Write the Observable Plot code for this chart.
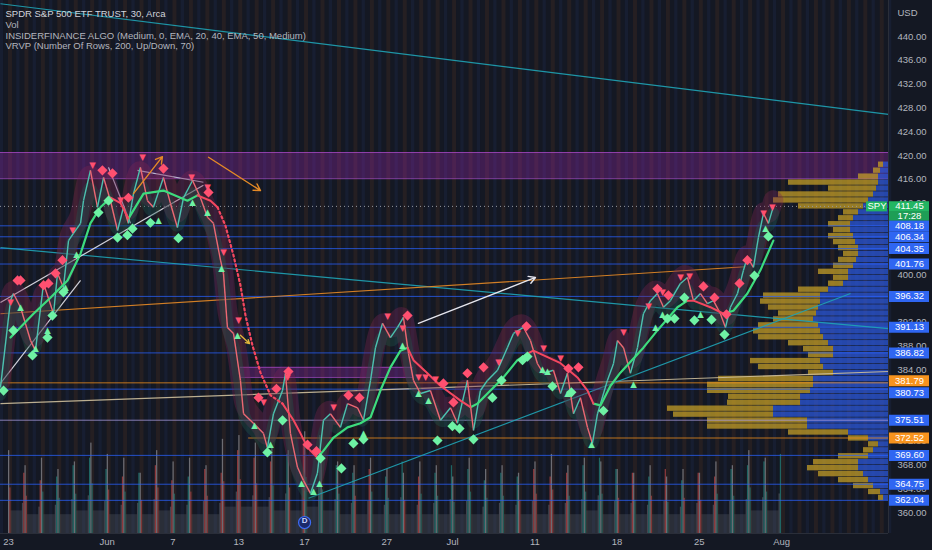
<!DOCTYPE html>
<html><head><meta charset="utf-8">
<script src="https://cdn.jsdelivr.net/npm/d3@7"></script>
<script src="https://cdn.jsdelivr.net/npm/@observablehq/plot@0.6"></script>
<style>
html,body{margin:0;padding:0;background:#131722;}
#wrap{position:relative;width:932px;height:550px;overflow:hidden;background:#141823;}
#wrap svg{position:absolute;left:0;top:0;}
</style></head><body><div id="wrap"></div>
<script>
// ---------- DATA ----------
// time = trading-day index since May 23 open (fractional), price in USD
const tickIdx = [0,6,10,14,18,23,27,32,37,42,47];
const tickLabels = ["23","Jun","7","13","17","27","Jul","11","18","25","Aug"];
// price-scale labels that are not hidden behind the level tags
const yTicks = [360,364,368,372,384,388,392,400,412,416,420,424,428,432,436,440];

const priceT = [-0.49,0.12,0.30,0.73,1.34,1.64,2.13,2.74,2.98,3.34,3.65,3.95,4.38,4.56,4.98,5.41,5.78,6.20,6.63,6.99,7.29,7.60,8.02,8.45,8.81,9.42,9.85,10.27,10.64,11.19,11.67,12.10,12.46,12.89,13.07,13.31,13.68,14.10,14.29,14.89,15.50,15.74,16.11,16.66,16.84,17.14,17.57,17.93,18.36,18.78,19.15,19.57,20.18,20.61,21.22,21.58,22.01,22.31,22.74,23.22,23.65,24.01,24.32,24.62,25.05,25.65,26.26,26.87,27.29,27.90,28.27,28.69,29.12,29.73,30.33,30.70,31.31,31.73,32.16,32.52,33.13,33.56,33.98,34.35,34.77,35.20,35.50,35.81,36.41,36.78,37.02,37.39,37.81,38.24,38.60,39.03,39.45,39.82,40.24,40.85,41.28,41.64,42.07,42.49,42.86,43.28,43.59,43.89,44.32,44.68,44.92,45.29,45.59,45.90,46.20,46.50];
const priceP = [381.0,395.6,396.8,394.5,388.9,387.2,398.5,393.4,400.2,397.8,405.7,406.9,408.6,412.4,417.5,411.3,416.3,412.4,407.4,411.3,408.6,413.6,418.0,412.4,411.3,416.3,411.9,407.9,412.9,415.8,412.9,409.6,408.6,402.4,400.2,391.1,390.1,382.2,376.6,375.0,373.3,370.9,376.6,380.5,383.4,373.3,367.6,365.4,363.2,366.6,375.5,376.6,374.3,378.3,377.6,375.5,382.2,387.7,391.8,389.4,391.1,392.8,386.7,382.2,380.0,380.5,375.5,377.6,375.0,382.2,373.8,380.5,382.2,383.9,387.7,390.1,391.1,388.9,385.0,383.4,383.9,380.0,383.4,376.6,379.3,374.3,371.6,376.6,382.2,385.0,388.9,387.7,383.4,387.7,393.4,395.6,396.8,394.5,395.6,398.5,399.5,395.6,396.8,395.1,395.6,393.4,391.1,394.5,396.8,400.7,402.9,401.2,406.2,410.3,408.6,411.45];

// EMA trend line: segments (u = rising green, d = falling red, o = dotted red)
const emaSeg = ["A","A","A","A","A","A","A","A","B","B","B","C","C","C","C","C","D","D","D","E","E","E","E","E","E","E","E","E","G","G","G","G","G","H","H","H","H","H","H","H","H","H","H","I","I","I","I","I","I","J","J","J","J","J","J","K","K","K","K","K","K","K","L","L","L","L","L","L","L","L","M","M","M","M","N","N","N","N","N"];
const emaKind = {A:"u",B:"d",C:"u",D:"d",E:"o",G:"d",H:"u",I:"d",J:"u",K:"d",L:"u",M:"d",N:"u"};
const emaT = [0.12,1.52,2.55,3.59,4.38,4.98,5.59,6.20, 6.20,6.81,7.29, 7.29,8.21,9.42,10.88,11.49, 11.49,12.28,12.71, 12.71,13.19,13.68,14.10,14.41,14.83,15.32,15.93,16.66, 16.66,17.33,17.75,18.18,18.78, 18.78,19.15,19.76,20.61,21.40,22.01,22.61,23.22,23.83,24.26, 24.26,24.62,25.47,26.26,27.48,28.09, 28.09,28.51,29.12,30.09,30.94,31.55, 31.55,31.91,32.77,33.56,34.59,35.20,35.56, 35.56,35.99,36.60,37.20,38.60,39.45,40.67,41.28, 41.28,41.64,42.67,43.47, 43.47,44.07,44.92,45.71,46.50];
const emaP = [389.4,393.4,396.1,399.0,403.5,408.6,411.3,412.9, 412.9,412.0,409.4, 409.4,413.6,414.1,412.4,413.3, 413.3,412.4,411.3, 411.3,408.2,403.2,398.2,393.1,388.1,383.5,379.7,378.3, 378.3,375.5,373.3,370.9,369.2, 369.2,370.4,372.6,374.3,375.0,376.0,380.5,384.4,387.2,387.7, 387.7,385.6,383.4,381.3,378.8,377.7, 377.7,378.3,380.0,382.7,385.6,386.7, 386.7,387.2,386.1,385.1,382.7,380.5,378.3, 378.3,378.0,381.3,383.5,387.7,390.6,394.5,395.6, 395.6,395.6,394.5,393.4, 393.4,393.9,396.8,400.7,405.7];

const redDiaT = [0.55,0.73,2.13,2.43,2.86,3.28,5.71,6.32,7.29,9.42,12.16,15.20,16.29,17.02,18.18,18.72,20.67,21.34,24.26,26.44,27.05,27.90,28.88,31.49,34.04,34.65,39.45,40.12,42.25,42.92,43.65,44.44,44.92];
const redDiaP = [399.0,399.0,398.2,398.5,400.2,402.4,417.5,417.0,412.9,417.8,413.8,379.3,380.8,383.7,371.4,370.3,379.7,379.3,393.1,381.7,378.5,383.4,384.4,391.3,384.2,384.4,397.6,396.5,398.0,396.1,393.3,398.5,402.4];
const redTriT = [0.12,3.89,5.11,6.81,8.15,11.12,12.10,13.07,13.98,15.50,16.96,19.76,23.04,23.95,24.92,25.35,25.96,29.79,30.94,32.52,33.56,37.39,38.91,39.76,40.85,41.40,45.90,46.44];
const redTriP = [395.3,407.4,418.3,412.4,419.7,416.3,414.6,403.7,392.3,378.5,382.7,377.7,392.9,390.9,382.7,382.7,382.4,385.2,390.1,387.6,385.9,390.3,394.6,397.0,399.5,399.7,410.3,411.3];
const grnDiaT = [-0.30,0.30,1.46,2.37,2.67,3.34,5.47,6.08,6.63,7.23,7.54,8.63,10.33,15.74,16.66,18.97,20.24,20.97,21.58,26.08,26.99,27.42,28.27,29.42,29.97,31.25,31.55,33.07,34.22,36.17,40.06,40.49,41.09,41.70,42.74,43.53,45.35,46.20];
const grnDiaP = [380.5,390.6,386.4,389.4,393.1,397.0,410.4,412.4,406.2,406.6,407.7,408.7,406.1,370.1,375.5,369.1,367.4,371.6,372.3,372.1,374.5,374.1,372.3,379.3,382.2,385.6,386.2,381.2,380.2,377.1,392.6,392.6,396.1,392.3,392.4,389.9,399.8,406.4];
const grnTriT = [0.73,1.64,2.37,3.47,4.13,9.12,11.19,12.10,12.95,13.92,14.95,15.93,17.81,18.54,18.91,21.58,23.95,24.92,25.53,32.46,32.77,33.98,35.44,38.00,39.33,39.76,42.07,46.02];
const grnTriP = [394.5,387.6,390.6,397.8,403.4,409.1,412.1,410.4,401.0,389.8,374.6,371.4,364.9,363.5,364.9,373.3,388.1,380.0,378.8,384.0,383.7,380.0,371.4,381.5,391.1,393.4,393.3,407.7];

// horizontal levels with price-scale tags
const levelVals  = [408.18,406.34,404.35,401.76,396.32,391.13,386.82,381.79,380.73,375.51,372.52,369.60,364.75,362.04];
const levelColor = ["b","b","b","b","b","b","b","o","b","b","o","b","b","b"];
const levelFrom  = [null,null,null,null,null,null,null,null,null,null,14.6,null,null,null];
const lastPrice = 411.45;
const lastTime = "17:28";

// zones (price ranges)
const zoneLo = [416.1, 382.7];
const zoneHi = [420.5, 384.4];
const zoneFrom = [null, 14.1];
const zoneTo = [null, 24.6];

// drawn trendlines
const lineT1 = [-0.49,-0.49,-0.49,-0.49,18.24,-0.49,-0.49,7.84,6.08];
const lineP1 = [445.5,404.5,393.4,378.3,362.4,395.3,381.7,417.5,418.0];
const lineT2 = [53.5,53.5,44.8,53.5,51.19,11.85,4.38,11.85,7.42];
const lineP2 = [426.9,390.9,401.3,383.7,396.8,415.0,399.0,415.5,408.6];
const lineKind = ["teal","teal","orange","beige","teal","white","white","lav","lav"];
// arrows
const arrT1 = [24.92,7.60,12.16,14.10];
const arrP1 = [391.8,413.6,419.7,389.8];
const arrT2 = [32.04,9.36,15.32,14.65];
const arrP2 = [399.5,419.8,414.1,388.4];
const arrKind = ["white","orange","orange","yellow"];

// volume (millions, per day: opening bar, mid-session, closing bar)
const volOpen  = [22,18,20,17,19,24,21,20,16,22,19,20,18,25,26,24,23,22,27,21,19,18,20,17,16,19,18,15,20,17,18,16,19,21,18,20,19,17,16,18,15,17,16,19,18,22,20];
const volMid   = [6,5,5,5,6,6,5,5,5,6,5,5,5,7,7,7,6,6,7,6,5,5,5,5,5,5,5,5,5,5,5,5,5,5,5,6,5,5,5,5,5,5,5,5,5,6,6];
const volClose = [16,14,15,18,20,17,15,16,18,14,15,17,16,22,20,19,21,24,26,18,16,17,15,19,15,16,18,17,14,16,15,17,15,16,18,20,17,16,15,17,14,16,15,17,18,19,21];
const dividendT = [18];

// visible-range volume profile rows (row = [p, p+1])
const vpPrice = [418,417,416,415,414,413,412,411,410,409,408,407,406,405,404,403,402,401,400,399,398,397,396,395,394,393,392,391,390,389,388,387,386,385,384,383,382,381,380,379,378,377,376,375,374,373,372,371,370,369,368,367,366,365,364,363,362];
const vpTotal = [10,15,30,100,60,110,115,90,45,50,60,55,60,55,50,45,50,55,70,55,60,90,125,128,120,110,115,130,135,130,100,85,80,138,130,80,170,181,181,160,161,221,215,181,181,100,40,20,25,50,75,81,70,50,35,20,10];
const vpUp    = [5,8,10,10,12,15,20,25,30,35,38,38,35,33,30,30,32,35,40,40,45,60,68,68,70,72,75,70,68,65,60,55,55,68,65,55,75,75,78,88,88,115,115,81,81,40,20,10,15,20,30,30,25,20,15,8,5];

const legendLines = ["SPDR S&P 500 ETF TRUST, 30, Arca","Vol","INSIDERFINANCE ALGO (Medium, 0, EMA, 20, 40, EMA, 50, Medium)","VRVP (Number Of Rows, 200, Up/Down, 70)"];

// ---------- BUILD ----------
const W = 932, H = 550, MR = 44, MB = 17;
const xDom = [-0.486, 53.5];
const yDom = [356.47, 446.05];
const FONT = "Liberation Sans, Arial, sans-serif";
const C = {axis:"#b2b5be", green:"#26a69a", red:"#ef5350",
  emaG:"#3ddc7e", emaR:"#f4475f", diaR:"#ff5070", diaG:"#6ef2a4", orange:"#f7931e"};
const lineColor = {teal:"#1fa3b5", orange:"#e58a26", beige:"#cdbf9c", white:"#e6e6ee", lav:"#c9c5e0", yellow:"#e0b43a"};
const tagShift = {381.79: -2, 380.73: 3.5};

const base = {width: W, height: H, marginLeft: 0, marginRight: MR, marginTop: 0, marginBottom: MB,
  x: {domain: xDom, axis: null}, y: {domain: yDom, axis: null},
  style: {background: "transparent", fontFamily: FONT, fontSize: "9.5px", color: C.axis, overflow: "visible"}};

const price = priceT.map((t, i) => ({t, p: priceP[i]}));
const priceSegs = d3.pairs(price).map(([a, b]) => ({t1: a.t, p1: a.p, t2: b.t, p2: b.p, up: b.p >= a.p}));
const ema = emaT.map((t, i) => ({t, p: emaP[i], seg: emaSeg[i], kind: emaKind[emaSeg[i]]}));
const pts = (T, P) => T.map((t, i) => ({t, p: P[i]}));
const levels = levelVals.map((v, i) => ({v, c: levelColor[i], from: levelFrom[i] ?? xDom[0]}));
const zones = zoneLo.map((lo, i) => ({lo, hi: zoneHi[i], from: zoneFrom[i] ?? xDom[0], to: zoneTo[i] ?? xDom[1]}));
const lines = lineT1.map((t, i) => ({t1: t, p1: lineP1[i], t2: lineT2[i], p2: lineP2[i], k: lineKind[i]}));
const arrows = arrT1.map((t, i) => ({t1: t, p1: arrP1[i], t2: arrT2[i], p2: arrP2[i], k: arrKind[i]}));
const days = d3.range(-1, 54);
const dayDir = volOpen.map((_, d) => {
  const inDay = price.filter(q => q.t >= d && q.t < d + 1);
  return inDay.length > 1 ? inDay[inDay.length - 1].p >= inDay[0].p : true;
});
const vol = volOpen.map((o, d) => ({d, o, m: volMid[d], c: volClose[d], up: dayDir[d]}));
const vp = vpPrice.map((p, i) => ({p, up: vpUp[i], tot: vpTotal[i]}));

const wrap = document.getElementById("wrap");

// layer 1: background stripes + zones
const bg = Plot.plot({...base, marks: [
  Plot.rect(days, {x1: d => d, x2: d => d + 0.24, fill: "#c0661a", fillOpacity: 0.1}),
  Plot.rect(days, {x1: d => d + 0.5, x2: d => d + 0.7, fill: "#3b63d6", fillOpacity: 0.08}),
  Plot.rect(zones, {x1: "from", x2: "to", y1: "lo", y2: "hi", fill: "#9c27b0", fillOpacity: 0.32}),
  Plot.ruleY(zones, {y: "lo", x1: "from", x2: "to", stroke: "#b04fd0", strokeOpacity: 0.7}),
  Plot.ruleY(zones, {y: "hi", x1: "from", x2: "to", stroke: "#b04fd0", strokeOpacity: 0.7})
]});
wrap.appendChild(bg);

// layer 2: volume
const volPlot = Plot.plot({...base, marginTop: 420, y: {domain: [0, 30], axis: null}, marks: [
  Plot.rectY(vol, {x1: d => d.d + 2/13, x2: d => d.d + 11/13, y: "m", fill: "#6b6e78", fillOpacity: 0.25}),
  Plot.rectY(vol, {x1: d => d.d, x2: d => d.d + 1/13, y: "o", fill: "#8a8d96", fillOpacity: 0.7}),
  Plot.rectY(vol, {x1: d => d.d + 1/13, x2: d => d.d + 2/13, y: d => d.o * 0.55, fill: d => d.up ? C.green : C.red, fillOpacity: 0.45}),
  Plot.rectY(vol, {x1: d => d.d + 11/13, x2: d => d.d + 12/13, y: d => d.c * 0.5, fill: "#8a8d96", fillOpacity: 0.4}),
  Plot.rectY(vol, {x1: d => d.d + 12/13, x2: d => d.d + 1, y: "c", fill: d => d.up ? C.green : C.red, fillOpacity: 0.55})
]});
wrap.appendChild(volPlot);

// layer 3: volume profile
const vpPlot = Plot.plot({...base, x: {domain: [888, 0], axis: null}, marks: [
  Plot.rect(vp, {x1: 0, x2: "up", y1: "p", y2: d => d.p + 1, insetTop: 0.6, fill: "#2d5ae0", fillOpacity: 0.72}),
  Plot.rect(vp, {x1: "up", x2: "tot", y1: "p", y2: d => d.p + 1, insetTop: 0.6, fill: "#c9a227", fillOpacity: 0.72})
]});
wrap.appendChild(vpPlot);

// layer 4: main chart
const main = Plot.plot({...base, marks: [
  Plot.ruleY(levels, {y: "v", x1: "from", x2: xDom[1], stroke: d => d.c === "o" ? C.orange : (d.v === 375.51 ? "#a99be0" : "#2962ff"), strokeOpacity: 0.75, strokeWidth: 1}),
  Plot.ruleY([lastPrice], {stroke: "#9598a1", strokeDasharray: "1,3", strokeWidth: 1}),
  Plot.link(lines, {x1: "t1", y1: "p1", x2: "t2", y2: "p2", stroke: d => lineColor[d.k], strokeWidth: 1.2, strokeOpacity: 0.9}),
  Plot.line(price, {x: "t", y: "p", curve: "basis", stroke: "#7a2552", strokeWidth: 20, strokeOpacity: 0.35, dy: -6}),
  Plot.line(price, {x: "t", y: "p", curve: "basis", stroke: "#1f5a4c", strokeWidth: 12, strokeOpacity: 0.35, dy: 7}),
  Plot.link(priceSegs, {x1: "t1", y1: "p1", x2: "t2", y2: "p2", stroke: d => d.up ? "#4cc2b0" : "#ec6873", strokeWidth: 1.4}),
  Plot.line(ema.filter(d => d.kind === "u"), {x: "t", y: "p", z: "seg", stroke: C.emaG, strokeWidth: 2.2}),
  Plot.line(ema.filter(d => d.kind === "d"), {x: "t", y: "p", z: "seg", stroke: C.emaR, strokeWidth: 2}),
  Plot.line(ema.filter(d => d.kind === "o"), {x: "t", y: "p", z: "seg", stroke: C.emaR, strokeWidth: 2.2, strokeDasharray: "2,3"}),
  Plot.arrow(arrows, {x1: "t1", y1: "p1", x2: "t2", y2: "p2", stroke: d => lineColor[d.k], strokeWidth: 1.4, headLength: 8}),
  Plot.dot(pts(redDiaT, redDiaP), {x: "t", y: "p", symbol: "diamond2", r: 4.6, fill: C.diaR, stroke: "none"}),
  Plot.dot(pts(grnDiaT, grnDiaP), {x: "t", y: "p", symbol: "diamond2", r: 4.6, fill: C.diaG, stroke: "none"}),
  Plot.text(pts(redTriT, redTriP), {x: "t", y: "p", text: () => "▼", fill: C.diaR, fontSize: 8.5, fontFamily: "DejaVu Sans"}),
  Plot.text(pts(grnTriT, grnTriP), {x: "t", y: "p", text: () => "▲", fill: C.diaG, fontSize: 8.5, fontFamily: "DejaVu Sans"}),
  Plot.dot(dividendT, {x: d => d, frameAnchor: "bottom", dy: -11, r: 6, fill: "#1b2a6b", stroke: "#3d6cf5", strokeWidth: 1.2}),
  Plot.text(dividendT, {x: d => d, frameAnchor: "bottom", dy: -11, text: () => "D", fill: "#c8d4ff", fontSize: 8, fontWeight: "bold"}),
  Plot.ruleY([yDom[0]], {stroke: "#2a2e39"}),
  Plot.ruleX([xDom[1]], {stroke: "#2a2e39"}),
  Plot.axisX({ticks: tickIdx, tickFormat: d => tickLabels[tickIdx.indexOf(d)], tickSize: 0, tickPadding: 5, fill: C.axis, fontSize: 9.5, label: null}),
  Plot.axisY({anchor: "right", ticks: yTicks, tickFormat: d => d.toFixed(2), tickSize: 0, tickPadding: 9, fill: C.axis, fontSize: 9.5, label: null}),
  ...legendLines.map((s, i) => Plot.text([s], {frameAnchor: "top-left", dx: 5, dy: 10 + i * 10.7, text: d => d, textAnchor: "start", fill: i === 0 ? "#d1d4dc" : "#b2b5be", fontSize: 9.5}))
]});
wrap.appendChild(main);

// layer 5: price-scale tags
const tagCol = c => c === "o" ? C.orange : "#2f66f2";
const tagMarks = levels.flatMap(d => [
  Plot.tickY([d], {y: "v", dy: tagShift[d.v] || 0, stroke: tagCol(d.c), strokeWidth: 11, insetLeft: 29, insetRight: 3}),
  Plot.text([d], {y: "v", dy: tagShift[d.v] || 0, frameAnchor: "left", dx: 49, textAnchor: "middle", text: q => q.v.toFixed(2), fill: "white", fontSize: 9.5})
]);
const tags = Plot.plot({...base, marginLeft: 860, marginRight: 0, x: {domain: [0, 1], axis: null}, marks: [
  Plot.text(["USD"], {frameAnchor: "top-left", dx: 37, dy: 9, text: d => d, textAnchor: "start", fill: C.axis, fontSize: 9.5}),
  ...tagMarks,
  Plot.tickY([lastPrice], {y: d => d, stroke: "#22b562", strokeWidth: 10, insetLeft: 29, insetRight: 3}),
  Plot.tickY([lastPrice], {y: d => d, dy: 9.5, stroke: "#1e9e56", strokeWidth: 9.5, insetLeft: 29, insetRight: 3}),
  Plot.text([lastPrice], {y: d => d, frameAnchor: "left", dx: 49, textAnchor: "middle", text: d => d.toFixed(2), fill: "white", fontSize: 9.5}),
  Plot.text([lastTime], {y: () => lastPrice, dy: 9.5, frameAnchor: "left", dx: 49, textAnchor: "middle", text: d => d, fill: "white", fontSize: 9.5}),
  Plot.tickY([lastPrice], {y: d => d, stroke: "#22b562", strokeWidth: 10, insetLeft: 6, insetRight: 45}),
  Plot.text(["SPY"], {y: () => lastPrice, frameAnchor: "left", dx: 16.5, textAnchor: "middle", text: d => d, fill: "white", fontSize: 9.5})
]});
wrap.appendChild(tags);
</script></body></html>
